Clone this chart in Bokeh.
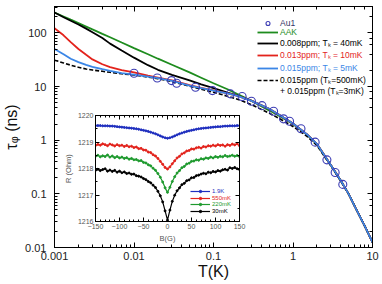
from bokeh.plotting import figure
from bokeh.layouts import column
from bokeh.models import (Legend, LegendItem, LogAxis, LinearAxis, CustomJSTickFormatter,
                          FixedTicker)
from bokeh.embed import file_html
from bokeh.resources import INLINE

# ---------------- main panel data (T in K, tau in ns) ----------------
T_GRID = [0.001, 0.0013, 0.0016, 0.002, 0.0025, 0.003, 0.004, 0.005, 0.007, 0.01,
          0.015, 0.02, 0.03, 0.05, 0.07, 0.1, 0.15, 0.2, 0.3, 0.5,
          0.7, 1.0, 1.5, 2.0, 3.0, 4.0, 5.0, 6.0, 8.0, 10.0]
TAU_AAK = [240, 202, 176, 152, 131, 116, 96, 83, 66, 52,
           40, 33, 25.5, 18.3, 14.6, 11.5, 8.9, 7.2, 5.4, 3.6,
           2.75, 2.0, 1.26, 0.84, 0.34, 0.175, 0.1, 0.058, 0.025, 0.0125]
TAU_008 = [240, 196, 168, 143, 120, 103, 80, 63, 47, 34.5,
           25, 20.5, 16.5, 13.0, 11.0, 9.3, 7.7, 6.8, 5.45, 3.85,
           2.85, 2.05, 1.28, 0.85, 0.34, 0.175, 0.1, 0.058, 0.025, 0.0125]
TAU_013 = [122, 90, 67, 50, 39, 32, 26, 23, 20.3, 18.4,
           16.0, 14.7, 13.0, 10.6, 9.4, 8.5, 7.45, 6.7, 5.4, 3.85,
           2.85, 2.05, 1.28, 0.85, 0.34, 0.175, 0.1, 0.058, 0.025, 0.0125]
TAU_015 = [50, 40, 33, 28.5, 25.3, 23.3, 21, 19.5, 17.8, 16.7,
           15.3, 14.3, 12.8, 10.4, 9.3, 8.4, 7.45, 6.7, 5.4, 3.85,
           2.85, 2.05, 1.28, 0.85, 0.34, 0.175, 0.1, 0.058, 0.025, 0.0125]
TAU_TWO = [31, 27.5, 25, 22.8, 21.2, 20.3, 19.2, 18.4, 17.3, 16.4,
           15.0, 14.0, 12.4, 10.1, 8.9, 7.8, 6.6, 5.8, 4.6, 3.2,
           2.45, 1.8, 1.18, 0.8, 0.33, 0.172, 0.1, 0.058, 0.025, 0.0125]
T_AU1 = [0.0100, 0.0196, 0.0296, 0.0344, 0.0594, 0.097, 0.163, 0.229, 0.30, 0.407,
         0.57, 0.76, 0.905, 1.26, 1.90, 2.67, 3.39, 4.23]
TAU_AU1 = [17.7, 14.4, 12.9, 11.5, 9.7, 8.4, 7.3, 6.5, 5.3, 4.4,
           3.47, 2.5, 2.26, 1.63, 0.92, 0.43, 0.25, 0.15]

# ---------------- inset data (B in G, R in Ohm) ----------------
B_FIELD = [-150, -145, -140, -135, -130, -125, -120, -115, -110, -105, -100, -95, -90, -85, -80,
           -75, -70, -65, -60, -55, -50, -45, -40, -35, -30, -25, -20, -15, -10, -5, 0,
           5, 10, 15, 20, 25, 30, 35, 40, 45, 50, 55, 60, 65, 70, 75,
           80, 85, 90, 95, 100, 105, 110, 115, 120, 125, 130, 135, 140, 145, 150]
R_1K9 = [1219.62, 1219.62, 1219.62, 1219.61, 1219.61, 1219.61, 1219.60, 1219.60, 1219.59, 1219.58,
         1219.57, 1219.56, 1219.55, 1219.54, 1219.53, 1219.52, 1219.51, 1219.50, 1219.48, 1219.46,
         1219.44, 1219.42, 1219.40, 1219.37, 1219.34, 1219.31, 1219.27, 1219.23, 1219.19, 1219.16,
         1219.14,
         1219.16, 1219.19, 1219.23, 1219.27, 1219.31, 1219.34, 1219.37, 1219.40, 1219.42, 1219.44,
         1219.46, 1219.48, 1219.50, 1219.51, 1219.52, 1219.53, 1219.54, 1219.55, 1219.56, 1219.57,
         1219.58, 1219.58, 1219.59, 1219.60, 1219.60, 1219.61, 1219.61, 1219.61, 1219.62, 1219.62]
R_550 = [1218.87, 1218.91, 1218.88, 1218.93, 1218.90, 1218.86, 1218.92, 1218.89, 1218.85, 1218.90,
         1218.86, 1218.88, 1218.83, 1218.87, 1218.82, 1218.84, 1218.79, 1218.81, 1218.75, 1218.76,
         1218.70, 1218.69, 1218.62, 1218.60, 1218.52, 1218.47, 1218.38, 1218.27, 1218.16, 1218.04,
         1217.98,
         1218.06, 1218.18, 1218.29, 1218.40, 1218.46, 1218.55, 1218.59, 1218.66, 1218.68, 1218.74,
         1218.73, 1218.78, 1218.80, 1218.77, 1218.83, 1218.81, 1218.86, 1218.84, 1218.88, 1218.85,
         1218.90, 1218.87, 1218.89, 1218.84, 1218.90, 1218.87, 1218.92, 1218.89, 1218.93, 1218.86]
R_220 = [1218.46, 1218.50, 1218.44, 1218.48, 1218.45, 1218.51, 1218.43, 1218.47, 1218.41, 1218.45,
         1218.40, 1218.43, 1218.38, 1218.41, 1218.35, 1218.38, 1218.33, 1218.34, 1218.29, 1218.30,
         1218.23, 1218.21, 1218.14, 1218.10, 1218.01, 1217.93, 1217.81, 1217.67, 1217.49, 1217.27,
         1217.10,
         1217.29, 1217.51, 1217.69, 1217.83, 1217.92, 1218.03, 1218.08, 1218.17, 1218.20, 1218.27,
         1218.28, 1218.33, 1218.31, 1218.37, 1218.35, 1218.40, 1218.38, 1218.43, 1218.40, 1218.45,
         1218.42, 1218.46, 1218.44, 1218.49, 1218.45, 1218.47, 1218.50, 1218.46, 1218.49, 1218.45]
R_30 = [1217.93, 1217.97, 1217.92, 1217.96, 1217.99, 1217.90, 1217.94, 1217.89, 1217.93, 1217.86,
        1217.90, 1217.84, 1217.87, 1217.81, 1217.83, 1217.78, 1217.79, 1217.73, 1217.71, 1217.68,
        1217.62, 1217.58, 1217.51, 1217.46, 1217.37, 1217.28, 1217.14, 1216.97, 1216.74, 1216.40,
        1216.05,
        1216.43, 1216.76, 1216.99, 1217.16, 1217.27, 1217.39, 1217.44, 1217.54, 1217.57, 1217.65,
        1217.66, 1217.73, 1217.75, 1217.79, 1217.82, 1217.80, 1217.86, 1217.84, 1217.89, 1217.87,
        1217.92, 1217.90, 1217.95, 1217.97, 1217.94, 1218.03, 1218.00, 1218.04, 1217.99, 1217.96]

INSET_XTICKS = [-150, -100, -50, 0, 50, 100, 150]
INSET_YTICKS = [1216, 1217, 1218, 1219, 1220]

FONT = "Liberation Sans"
C_GREEN = "#1e8c1e"
C_RED = "#e3231c"
C_BLUE = "#3b86e6"
C_CIRC = "#3c3cb4"

W, H = 382, 284


def tick_style(ax, size, color="#222222"):
    ax.major_tick_in = 5
    ax.major_tick_out = 0
    ax.minor_tick_in = 3
    ax.minor_tick_out = 0
    ax.major_label_text_font = FONT
    ax.major_label_text_font_size = size
    ax.major_label_text_color = color
    ax.axis_line_color = "black"
    ax.major_tick_line_color = "black"
    ax.minor_tick_line_color = "black"


def add_legend(fig, label, renderers, loc, color, size, gw, gh):
    leg = Legend(items=[LegendItem(label=label, renderers=renderers)], location=loc,
                 border_line_color=None, background_fill_alpha=0, padding=0, margin=0,
                 spacing=0, glyph_width=gw, glyph_height=gh, label_height=gh,
                 label_standoff=2, label_text_font=FONT, label_text_font_size=size,
                 label_text_color=color)
    fig.add_layout(leg)


# ---------------- main figure ----------------
p = figure(width=W, height=H, x_axis_type="log", y_axis_type="log",
           x_range=(0.001, 10), y_range=(0.01, 310), output_backend="svg",
           toolbar_location=None, min_border_left=53, min_border_right=10,
           min_border_top=6, min_border_bottom=37, frame_align=False)
p.xgrid.grid_line_color = None
p.ygrid.grid_line_color = None
p.outline_line_color = "black"
p.background_fill_color = "white"
p.border_fill_color = "white"

fmt = CustomJSTickFormatter(code="if (tick >= 1) { return tick.toFixed(0); } "
                                 "return parseFloat(tick.toPrecision(1)).toString();")
p.xaxis.formatter = fmt
p.yaxis.formatter = fmt
tick_style(p.xaxis[0], "11px")
tick_style(p.yaxis[0], "11px")
p.xaxis.axis_label = "T(K)"
p.yaxis.axis_label = "τᵩ (ns)"
for ax in (p.xaxis[0], p.yaxis[0]):
    ax.axis_label_text_font = FONT
    ax.axis_label_text_font_size = "16px"
    ax.axis_label_text_font_style = "normal"
    ax.axis_label_text_color = "#111111"
p.xaxis.axis_label_standoff = 0
p.xaxis.major_label_standoff = 4
p.yaxis.axis_label_standoff = 2
p.yaxis.major_label_standoff = 8

for place in ("above", "right"):
    ax = LogAxis(formatter=CustomJSTickFormatter(code="return '';"))
    tick_style(ax, "0px")
    ax.major_label_standoff = 0
    p.add_layout(ax, place)

r_aak = p.line(T_GRID, TAU_AAK, line_color=C_GREEN, line_width=1.8)
r_008 = p.line(T_GRID, TAU_008, line_color="black", line_width=1.8)
r_013 = p.line(T_GRID, TAU_013, line_color=C_RED, line_width=1.8)
r_two = p.line(T_GRID, TAU_TWO, line_color="black", line_width=1.6, line_dash="4 2")
r_015 = p.line(T_GRID, TAU_015, line_color=C_BLUE, line_width=1.8)
r_au1 = p.scatter(T_AU1, TAU_AU1, marker="circle", size=8, fill_color=None,
                  line_color=C_CIRC, line_width=1.1)
r_plus = p.line([], [], line_alpha=0)

LX = 203
add_legend(p, "Au1", [r_au1], (LX, 219), "#333366", "8.5px", 21, 10)
add_legend(p, "AAK", [r_aak], (LX, 210), C_GREEN, "8.5px", 21, 10)
add_legend(p, "0.008ppm; Tₖ = 40mK", [r_008], (LX, 199), "black", "8.5px", 21, 10)
add_legend(p, "0.013ppm; Tₖ = 10mK", [r_013], (LX, 187), C_RED, "8.5px", 21, 10)
add_legend(p, "0.015ppm; Tₖ = 5mK", [r_015], (LX, 174), C_BLUE, "8.5px", 21, 10)
add_legend(p, "0.015ppm (Tₖ=500mK)", [r_two], (LX, 162), "black", "8.5px", 21, 10)
add_legend(p, "+ 0.015ppm (Tₖ=3mK)", [r_plus], (LX, 151), "black", "8.5px", 21, 10)

# ---------------- inset figure (same canvas size, transparent border, overlaid) ----------------
ins = figure(width=W, height=H, x_range=(-150, 150), y_range=(1216, 1220),
             output_backend="svg", toolbar_location=None,
             min_border_left=95, min_border_right=W - 239, min_border_top=115,
             min_border_bottom=H - 221, frame_align=False)
ins.margin = (-H, 0, 0, 0)
ins.xgrid.grid_line_color = None
ins.ygrid.grid_line_color = None
ins.outline_line_color = "black"
ins.background_fill_color = "white"
ins.border_fill_alpha = 0

xt = FixedTicker(ticks=INSET_XTICKS, minor_ticks=[v for v in range(-150, 151, 10)])
yt = FixedTicker(ticks=INSET_YTICKS, minor_ticks=[1216.5, 1217.5, 1218.5, 1219.5])
ins.xaxis.ticker = xt
ins.yaxis.ticker = yt
tick_style(ins.xaxis[0], "7px", "#555555")
tick_style(ins.yaxis[0], "7px", "#555555")
for ax in (ins.xaxis[0], ins.yaxis[0]):
    ax.major_tick_in = 4
    ax.minor_tick_in = 2
    ax.major_label_standoff = 2
    ax.axis_label_text_font = FONT
    ax.axis_label_text_font_size = "7.5px"
    ax.axis_label_text_font_style = "normal"
    ax.axis_label_text_color = "#555555"
    ax.axis_label_standoff = 2
ins.xaxis.axis_label = "B(G)"
ins.yaxis.axis_label = "R (Ohm)"
ax_top = LinearAxis(ticker=xt, formatter=CustomJSTickFormatter(code="return '';"))
ax_right = LinearAxis(ticker=yt, formatter=CustomJSTickFormatter(code="return '';"))
for ax, place in ((ax_top, "above"), (ax_right, "right")):
    tick_style(ax, "0px")
    ax.major_tick_in = 4
    ax.minor_tick_in = 2
    ax.major_label_standoff = 0
    ins.add_layout(ax, place)

I_BLUE = "#1f2fbf"
I_RED = "#e3231c"
I_GREEN = "#1e9a2e"
series = [(R_1K9, I_BLUE, "1.9K"), (R_550, I_RED, "550mK"),
          (R_220, I_GREEN, "220mK"), (R_30, "black", "30mK")]
leg_y = [27, 20.5, 14, 7.5]
for (vals, col, lab), ly in zip(series, leg_y):
    rl = ins.line(B_FIELD, vals, line_color=col, line_width=1.2)
    rs = ins.scatter(B_FIELD, vals, marker="circle", size=2, color=col)
    add_legend(ins, lab, [rl, rs], (95, ly), col, "6px", 20, 6)

layout = column(p, ins)

open("out.html", "w").write(file_html(layout, INLINE))
